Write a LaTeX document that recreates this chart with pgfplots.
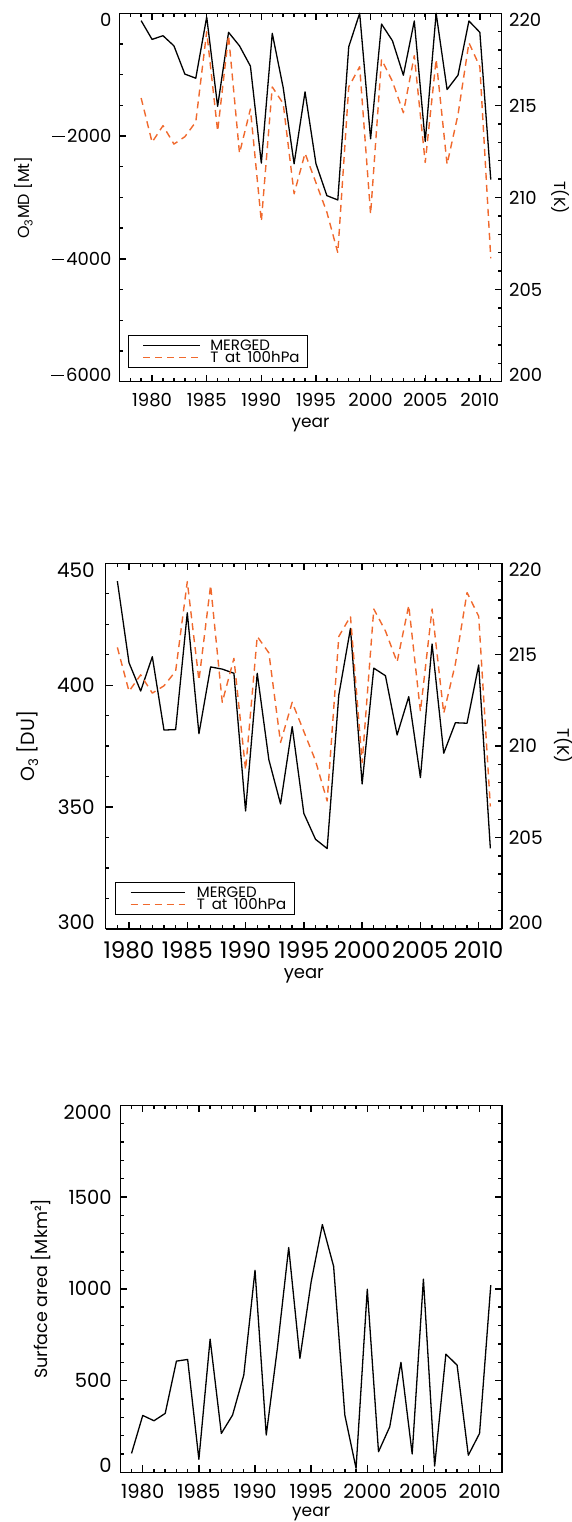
\documentclass[border=0pt]{standalone}
\usepackage{fontspec}
\setmainfont{Poppins}
\usepackage{pgfplots}
\usepackage{pgfplotstable}
\pgfplotsset{compat=1.18}
\definecolor{torange}{RGB}{240,105,45}

% tick labels: lowest sits on its tick, top one hangs below it, others centred
\newcommand\lo[1]{#1}
\newcommand\mi[1]{\raisebox{-0.5\height}{#1}}
\newcommand\hi[1]{\raisebox{-\height}{#1}}
\newcommand\fs[1]{\fontsize{#1}{#1}\selectfont}
\newcommand\mn{\rule[0.31em]{0.72em}{0.07em}\kern0.1em}

\pgfplotstableread{
year o3md   T     o3    area
1979 -120  215.4 442.7 103
1980 -425  213.0 409.2 310
1981 -365  213.9 397.6 281
1982 -530  212.9 411.7 321
1983 -990  213.3 381.6 606
1984 -1057 214.1 381.8 615
1985 -60   219.0 429.7 71
1986 -1515 213.6 380.1 726
1987 -310  218.8 407.5 212
1988 -530  212.4 406.6 312
1989 -860  214.8 404.9 530
1990 -2440 208.7 348.4 1101
1991 -327  216.0 404.9 203
1992 -1210 215.1 369.4 680
1993 -2450 210.2 351.3 1225
1994 -1280 212.4 383.0 621
1995 -2450 210.8 347.4 1038
1996 -2970 209.2 336.8 1350
1997 -3040 207.0 333.0 1123
1998 -545  216.0 396.0 312
1999 0     217.1 423.3 22
2000 -2044 209.1 359.5 998
2001 -175  217.5 407.0 112
2002 -447  216.3 403.9 248
2003 -1008 214.6 379.6 599
2004 -125  217.7 395.3 100
2005 -2087 211.9 362.1 1053
2006 0     217.5 416.9 34
2007 -1242 211.8 372.1 644
2008 -1008 214.5 384.6 584
2009 -125  218.4 384.4 93
2010 -310  217.1 408.3 212
2011 -2708 206.7 333.1 1020
}\data

\pgfplotsset{
  idl/.style={
    scale only axis, clip=false, anchor=north west,
    axis line style={line width=1.4pt},
    every tick/.style={black, line width=1.4pt},
    major tick length=7pt, minor tick length=3.6pt,
    scaled x ticks=false, scaled y ticks=false,
    xtick={1980,1985,...,2010},
    xticklabels={1980,1985,1990,1995,2000,2005,2010},
    minor xtick={1977,...,2012},
    xticklabel style={anchor=base, inner sep=0pt},
    yticklabel style={inner sep=0pt},
  },
  leg/.style={
    legend cell align=left,
    legend style={draw=black, line width=1pt, anchor=south west,
      inner xsep=8pt, inner ysep=5pt, row sep=1.5pt, column sep=#1,
      font=\fs{15},
      nodes={inner sep=0pt, text height=10.5pt, text depth=0pt}},
  },
  blk/.style={black, line width=1.3pt, line join=round},
  org/.style={torange, line width=1.4pt, line join=round, dash pattern=on 7pt off 5pt},
}

\begin{document}
\begin{tikzpicture}
\useasboundingbox (0,0) rectangle (572pt,-1522pt);

% ---------- panel 1 ----------
\begin{axis}[idl, at={(119.3pt,-13.3pt)}, width=382.4pt, height=368.4pt,
  xmin=1977, xmax=2012, ymin=-6000, ymax=0,
  axis y line*=left,
  ytick={-6000,-4000,-2000,0}, minor ytick={-6000,-5500,...,0},
  yticklabel={\ifcase\ticknum\relax\lo{\mn6000}\or\mi{\mn4000}\or\mi{\mn2000}\or\hi{0}\fi},
  yticklabel style={anchor=base east, xshift=-7.6pt},
  xticklabel style={yshift=-25pt},
  tick label style={font=\fs{18}},
  xlabel={year}, ylabel={O\textsubscript{3}MD [Mt]},
  every axis x label/.style={at={(rel axis cs:0.5,0)}, anchor=base, yshift=-45.3pt, font=\fs{17}},
  every axis y label/.style={at={(rel axis cs:0,0.5)}, xshift=-95.3pt, rotate=90, anchor=center, font=\fs{16}},
]
\addplot[blk] table[x=year, y=o3md] {\data};
\end{axis}
\begin{axis}[idl, at={(119.3pt,-13.3pt)}, width=382.4pt, height=368.4pt,
  xmin=1977, xmax=2012, ymin=200, ymax=220,
  axis y line*=right, axis x line=none,
  ytick={200,205,...,220}, minor ytick={200,...,220},
  yticklabel={\ifcase\ticknum\relax\lo{200}\or\mi{205}\or\mi{210}\or\mi{215}\or\hi{220}\fi},
  yticklabel style={anchor=base west, xshift=7.3pt},
  tick label style={font=\fs{18}},
  ylabel={T(K)},
  every axis y label/.style={at={(rel axis cs:1,0.5)}, xshift=59.1pt, rotate=-90, anchor=center, font=\fs{16}},
  leg=9.8pt,
  legend style={at={(0.0217,0.0364)}},
  legend image code/.code={\path (0pt,0pt); \draw[#1] (6.6pt,0pt) -- (63pt,0pt);},
]
\addlegendimage{blk}
\addlegendentry{MERGED}
\addplot[org] table[x=year, y=T] {\data};
\addlegendentry{T\hspace{0.45em}at\hspace{0.45em}100hPa}
\end{axis}

% ---------- panel 2 ----------
\begin{axis}[idl, at={(105.7pt,-563.3pt)}, width=396.3pt, height=365.7pt,
  xmin=1978, xmax=2012, ymin=300, ymax=450,
  axis y line*=left,
  ytick={300,350,400,450}, minor ytick={300,312.5,...,450},
  yticklabel={\ifcase\ticknum\relax\lo{300}\or\mi{350}\or\mi{400}\or\hi{450}\fi},
  yticklabel style={anchor=base east, xshift=-10.7pt, font=\fs{20}},
  xticklabel style={yshift=-29.3pt, font=\fs{23}},
  xlabel={year}, ylabel={O\textsubscript{3} [DU]},
  every axis x label/.style={at={(rel axis cs:0.5,0)}, anchor=base, yshift=-49.2pt, font=\fs{18}},
  every axis y label/.style={at={(rel axis cs:0,0.5)}, xshift=-78.4pt, rotate=90, anchor=center, font=\fs{19}},
]
\addplot[blk] table[x=year, y=o3] {\data};
\end{axis}
\begin{axis}[idl, at={(105.7pt,-563.3pt)}, width=396.3pt, height=365.7pt,
  xmin=1978, xmax=2012, ymin=200, ymax=220,
  axis y line*=right, axis x line=none,
  ytick={200,205,...,220}, minor ytick={200,...,220},
  yticklabel={\ifcase\ticknum\relax\lo{200}\or\mi{205}\or\mi{210}\or\mi{215}\or\hi{220}\fi},
  yticklabel style={anchor=base west, xshift=6.6pt, font=\fs{18.5}},
  ylabel={T(K)},
  every axis y label/.style={at={(rel axis cs:1,0.5)}, xshift=61.5pt, rotate=-90, anchor=center, font=\fs{17}},
  leg=10.9pt,
  legend style={at={(0.023,0.0383)}},
  legend image code/.code={\path (0pt,0pt); \draw[#1] (6.6pt,0pt) -- (61.3pt,0pt);},
]
\addlegendimage{blk}
\addlegendentry{MERGED}
\addplot[org] table[x=year, y=T] {\data};
\addlegendentry{T\hspace{0.45em}at\hspace{0.45em}100hPa}
\end{axis}

% ---------- panel 3 ----------
\begin{axis}[idl, at={(120.3pt,-1105.3pt)}, width=381.7pt, height=367pt,
  xmin=1978, xmax=2012, ymin=0, ymax=2000,
  ytick={0,500,...,2000}, minor ytick={0,100,...,2000},
  yticklabel={\ifcase\ticknum\relax\lo{0}\or\mi{500}\or\mi{1000}\or\mi{1500}\or\hi{2000}\fi},
  yticklabel style={anchor=base east, xshift=-8.6pt},
  xticklabel style={yshift=-26pt},
  tick label style={font=\fs{19.5}},
  xlabel={year}, ylabel={Surface area [Mkm²]},
  every axis x label/.style={at={(rel axis cs:0.5,0)}, anchor=base, yshift=-44pt, font=\fs{17}},
  every axis y label/.style={at={(rel axis cs:0,0.5)}, xshift=-79.3pt, rotate=90, anchor=center, font=\fs{17.5}},
]
\addplot[blk] table[x=year, y=area] {\data};
\end{axis}
\end{tikzpicture}
\end{document}
